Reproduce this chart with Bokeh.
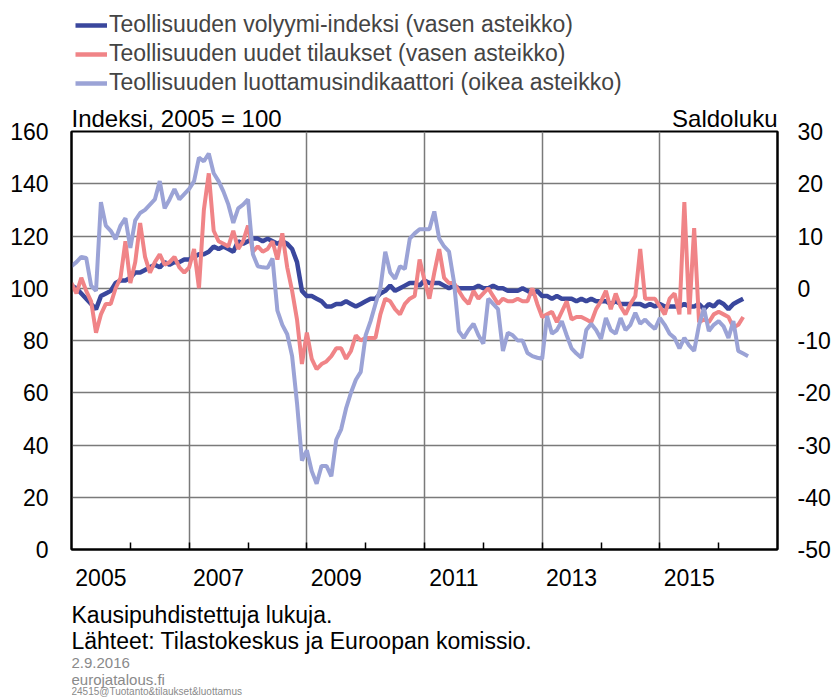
from bokeh.plotting import figure
from bokeh.layouts import column
from bokeh.models import Range1d, LinearAxis, FixedTicker, Label, Legend, LegendItem
from bokeh.embed import file_html
from bokeh.resources import INLINE

FONT = "Liberation Sans"

# ---- data (monthly, from Jan 2005) ----
volume_index = [101,100,98,96,94,92,97,98,99,102,
                103,103,104,106,106,107,108,109,108,110,
                109,110,110,111,111,112,113,113,114,116,
                115,116,115,114,118,117,118,119,119,118,
                119,118,117,118,117,115,110,99,97,97,
                96,95,93,93,94,94,95,94,93,94,
                95,96,96,98,99,101,99,100,101,102,
                102,101,103,102,102,102,101,100,101,100,
                100,100,100,101,100,100,101,100,100,99,
                99,99,100,99,98,99,97,97,96,97,
                96,96,96,95,96,95,96,95,95,95,
                94,95,94,94,94,94,94,93,94,93,
                94,93,93,93,93,94,93,93,94,92,
                94,93,95,94,92,94,95,96]
new_orders = [102,98,104,99,95,83,90,94,94,100,
              104,118,102,110,125,112,106,110,113,109,
              110,112,108,106,108,115,100,130,144,122,
              118,117,116,122,115,118,124,114,116,114,
              115,118,111,121,108,99,88,71,83,73,
              69,71,72,74,77,77,73,76,82,80,
              81,81,81,90,96,95,92,90,94,96,
              97,111,103,96,106,115,104,102,102,99,
              96,94,99,96,98,100,97,94,96,95,
              95,96,95,95,100,94,89,90,91,87,
              91,95,88,89,89,88,87,92,95,99,
              92,98,93,90,94,97,115,96,96,96,
              93,90,96,98,90,133,90,123,87,88,
              87,90,91,90,89,85,86,89]
confidence = [4.2,5,6,5.8,0.5,-0.5,16.5,12,11,9.4,
              12,13.4,7.7,13,14.4,15,16,17,20.5,15.3,
              17,19,17,18,19,20.5,25,24.3,25.8,22,
              20.5,18.5,16,12.5,15.3,16,17,6.5,4.2,4,
              3.9,5.7,-4.3,-7,-8.8,-13,-22,-33,-31,-35,
              -37.4,-34,-34,-36,-29,-27,-23,-20,-17.5,-16,
              -9,-6.3,-3,0,7,3,1.8,4.2,3.7,9.5,
              10.5,11.3,11.3,11.3,14.7,9.5,8,7,1.3,-8.2,
              -9.5,-8,-6.8,-9,-10.6,-2,-3,-4,-12,-8.5,
              -9,-10,-10,-12.4,-13,-13.3,-13.5,-5.3,-8.7,-8,
              -6.3,-9,-11.5,-12.5,-13.3,-8,-6.8,-8,-9.7,-5.7,
              -8,-8.7,-5.7,-8,-7,-4.7,-6.8,-6,-7,-7.8,
              -5.7,-7,-8.7,-9.5,-11.5,-9.5,-11,-12,-7,-3.8,
              -8.2,-7,-6.3,-7.3,-9.5,-6.3,-12,-12.5,-13]
start_year = 2005
year_labels = ["2005", "2007", "2009", "2011", "2013", "2015"]
left_ticks = [0, 20, 40, 60, 80, 100, 120, 140, 160]
right_ticks = [-50, -40, -30, -20, -10, 0, 10, 20, 30]
series_names = ["Teollisuuden volyymi-indeksi (vasen asteikko)",
                "Teollisuuden uudet tilaukset (vasen asteikko)",
                "Teollisuuden luottamusindikaattori (oikea asteikko)"]
left_unit = "Indeksi, 2005 = 100"
right_unit = "Saldoluku"
notes = ["Kausipuhdistettuja lukuja.", "Lähteet: Tilastokeskus ja Euroopan komissio."]
small_notes = ["2.9.2016", "eurojatalous.fi", "24515@Tuotanto&tilaukset&luottamus"]
colors = ["#3A479D", "#F08487", "#9BA3D6"]

def xs(n):
    return [start_year + m / 12 for m in range(n)]

# page coordinates (the Bokeh page template has no body margin)
FL, FT, FR, FB = 71, 131, 777, 549   # target frame edges
W = 834
X_STANDOFF = 19
TOP_PANEL = 31
BOT_PANEL = X_STANDOFF + 31
PAGE_BOTTOM = 697
MAIN_Y0 = FT - TOP_PANEL
MAIN_Y1 = FB + BOT_PANEL
H_TOP = MAIN_Y0
H_MAIN = MAIN_Y1 - MAIN_Y0
H_BOT = PAGE_BOTTOM - MAIN_Y1

def blank(h):
    f = figure(width=W, height=h, output_backend="svg", toolbar_location=None,
               x_range=Range1d(0, 1), y_range=Range1d(0, 1),
               x_axis_type=None, y_axis_type=None,
               min_border=0, min_border_left=0, min_border_right=0,
               min_border_top=0, min_border_bottom=0)
    f.grid.visible = False
    f.outline_line_color = None
    f.border_fill_color = "white"
    f.background_fill_color = "white"
    return f

def lab(f, y_bottom, text, X, Y, size, color="black"):
    # stacked figures share the main frame's left edge (FL)
    f.add_layout(Label(x=X - FL, y=y_bottom - Y, x_units="screen", y_units="screen", text=text,
                       text_font=FONT, text_font_size=size, text_color=color,
                       text_align="left", text_baseline="middle"))

# ---- top: legend ----
top = blank(H_TOP)
nan = float("nan")
dummies = [top.line([nan, nan], [nan, nan], line_color=c, line_width=4.5) for c in colors]
legend = Legend(items=[LegendItem(label=n, renderers=[r]) for n, r in zip(series_names, dummies)],
                location=(75 - FL, 4), orientation="vertical",
                background_fill_alpha=0, border_line_color=None,
                padding=0, margin=0, spacing=2, glyph_width=32, glyph_height=26,
                label_height=26, label_standoff=2,
                label_text_font=FONT, label_text_font_size="23px")
top.add_layout(legend, "center")

# ---- main chart ----
p = figure(width=W, height=H_MAIN, output_backend="svg", toolbar_location=None,
           x_range=Range1d(2005, 2017), y_range=Range1d(0, 160),
           min_border_left=FL, min_border_right=W - FR,
           min_border_top=TOP_PANEL, min_border_bottom=BOT_PANEL)
p.extra_y_ranges = {"r": Range1d(-50, 30)}
p.background_fill_color = "white"
p.border_fill_color = "white"
p.outline_line_color = "black"
p.outline_line_width = 2

r_vol = p.line(xs(len(volume_index)), volume_index, line_color=colors[0], line_width=4.5)
r_ord = p.line(xs(len(new_orders)), new_orders, line_color=colors[1], line_width=4)
r_con = p.line(xs(len(confidence)), confidence, line_color=colors[2], line_width=4, y_range_name="r")

xa = p.below[0]
major = [int(y) + 0.5 for y in year_labels]
xa.ticker = FixedTicker(ticks=major, minor_ticks=list(range(2006, 2017)))
xa.major_label_overrides = {t: l for t, l in zip(major, year_labels)}
xa.major_tick_line_color = None
xa.major_tick_out = 0
xa.major_tick_in = 0
xa.minor_tick_in = 7
xa.minor_tick_out = 0
xa.minor_tick_line_color = "black"
xa.minor_tick_line_width = 1.5
xa.axis_line_color = "black"
xa.axis_line_width = 2
xa.major_label_standoff = X_STANDOFF

ya = p.left[0]
ya.ticker = FixedTicker(ticks=left_ticks)
ya.major_tick_line_color = None
ya.major_tick_out = 0
ya.major_tick_in = 0
ya.minor_tick_line_color = None
ya.minor_tick_out = 0
ya.axis_line_color = "black"
ya.axis_line_width = 2
ya.major_label_standoff = 23
ra = LinearAxis(y_range_name="r", ticker=FixedTicker(ticks=right_ticks),
                major_label_overrides={t: str(t) for t in right_ticks})
ra.major_tick_line_color = None
ra.major_tick_out = 0
ra.major_tick_in = 0
ra.minor_tick_line_color = None
ra.minor_tick_out = 0
ra.axis_line_color = "black"
ra.axis_line_width = 2
ra.major_label_standoff = 20
p.add_layout(ra, "right")

# unit captions above the frame, as labels of a top axis
px_per_year = (FR - FL) / 12.0
w_left = 8.756 * 24      # approx. text widths (em * px)
w_right = 4.393 * 24
a = 2005 + (w_left / 2) / px_per_year
b = 2017 - (w_right / 2) / px_per_year
ta = LinearAxis(ticker=FixedTicker(ticks=[a, b]),
                major_label_overrides={a: left_unit, b: right_unit})
ta.axis_line_color = None
ta.major_tick_line_color = None
ta.minor_tick_line_color = None
ta.major_tick_out = 0
ta.major_tick_in = 0
ta.minor_tick_out = 0
ta.major_label_standoff = 0
p.add_layout(ta, "above")

for ax in [xa, ya, ra]:
    ax.major_label_text_font = FONT
    ax.major_label_text_font_size = "23px"
    ax.major_label_text_color = "black"
ta.major_label_text_font = FONT
ta.major_label_text_font_size = "24px"
ta.major_label_text_color = "black"

p.xgrid.ticker = FixedTicker(ticks=[2007, 2009, 2011, 2013, 2015])
p.ygrid.ticker = FixedTicker(ticks=left_ticks[1:-1])
for g in [p.xgrid[0], p.ygrid[0]]:
    g.grid_line_color = "#7a7a7a"
    g.grid_line_width = 1.5

# ---- bottom: notes ----
bot = blank(H_BOT)
lab(bot, PAGE_BOTTOM, notes[0], 71, 614, "23px")
lab(bot, PAGE_BOTTOM, notes[1], 71, 640, "23px")
lab(bot, PAGE_BOTTOM, small_notes[0], 71, 662, "15px", color="#8a8a8a")
lab(bot, PAGE_BOTTOM, small_notes[1], 71, 679, "15px", color="#8a8a8a")
lab(bot, PAGE_BOTTOM, small_notes[2], 71, 691, "10px", color="#8a8a8a")

layout = column(top, p, bot, spacing=0)
open("out.html", "w").write(file_html(layout, INLINE))
